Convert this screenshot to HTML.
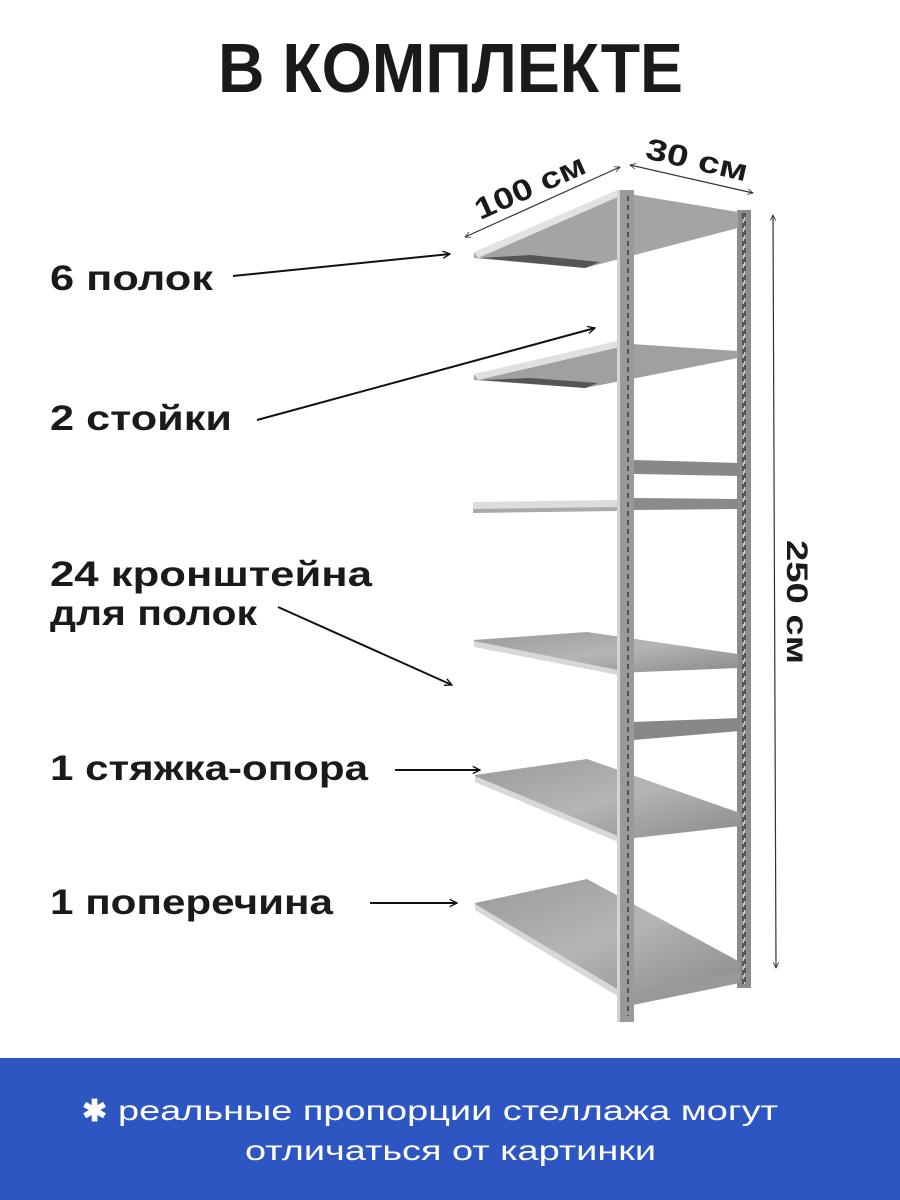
<!DOCTYPE html>
<html><head><meta charset="utf-8"><style>
html,body{margin:0;padding:0;background:#fff;}
svg{display:block;}
text{font-family:"Liberation Sans",sans-serif;font-weight:bold;fill:#1a1a1a;}
</style></head><body>
<svg width="900" height="1200" viewBox="0 0 900 1200" xmlns="http://www.w3.org/2000/svg">
<defs>
<marker id="ah" viewBox="0 0 10 10" refX="9" refY="5" markerWidth="9" markerHeight="9" orient="auto" markerUnits="userSpaceOnUse"><path d="M1,1 L9,5 L1,9" fill="none" stroke="#111" stroke-width="1.5"/></marker>
<marker id="as" viewBox="0 0 10 10" refX="9" refY="5" markerWidth="7" markerHeight="7" orient="auto-start-reverse" markerUnits="userSpaceOnUse"><path d="M1,1 L9,5 L1,9" fill="none" stroke="#333" stroke-width="1.2"/></marker>
<linearGradient id="sh" x1="0" y1="0" x2="1" y2="1"><stop offset="0" stop-color="#9a9a9a"/><stop offset="0.5" stop-color="#b5b5b5"/><stop offset="1" stop-color="#8a8a8a"/></linearGradient>
</defs>
<text x="218" y="92" font-size="70" textLength="465" lengthAdjust="spacingAndGlyphs">В КОМПЛЕКТЕ</text>

<!-- back post -->
<rect x="737" y="210" width="14" height="778" fill="#8c8c8c"/>
<rect x="743" y="214" width="2" height="770" fill="#c8c8c8" stroke-dasharray="5 4" stroke="#555" stroke-width="2"/>
<!-- crossbars -->
<polygon points="633,460 740,463 740,476 633,474" fill="#888"/>
<polygon points="633,498 738,499 738,509 633,510" fill="#8a8a8a"/>
<polygon points="633,722 740,718 740,731 633,740" fill="#888"/>
<polygon points="633,990 740,972 740,983 633,1005" fill="#999"/>

<!-- shelf 1 -->
<polygon points="474,253 617,192 738,212 738,228 585,268 474,258" fill="#a4a4a4"/>
<polygon points="474,252 617,190 620,196 478,258" fill="#e2e2e2"/>
<polygon points="480,258 585,268 600,262 530,255" fill="#555"/>
<!-- shelf 2 -->
<polygon points="474,375 617,343 738,351 738,358 585,388 474,380" fill="#a0a0a0"/>
<polygon points="474,374 617,341 620,347 478,380" fill="#e0e0e0"/>
<polygon points="480,380 585,388 598,383 530,378" fill="#555"/>
<!-- shelf 3 -->
<polygon points="473,502 617,500 617,508 473,510" fill="#dcdcdc"/>
<polygon points="473,509 617,507 617,511 473,513" fill="#aaa"/>
<!-- shelf 4 -->
<polygon points="474,640 587,632 738,654 738,668 618,673 474,645" fill="url(#sh)"/>
<polygon points="474,641 618,670 618,675 474,647" fill="#d8d8d8"/>
<!-- shelf 5 -->
<polygon points="475,775 587,759 740,813 740,826 618,840 475,781" fill="url(#sh)"/>
<polygon points="475,776 618,836 618,842 475,782" fill="#d8d8d8"/>
<!-- shelf 6 -->
<polygon points="475,903 587,879 740,962 740,972 619,995 475,909" fill="url(#sh)"/>
<polygon points="475,904 619,990 619,997 475,910" fill="#d8d8d8"/>

<!-- front post -->
<rect x="617" y="190" width="17" height="832" fill="#9a9a9a"/>
<rect x="617" y="190" width="3" height="832" fill="#d4d4d4"/>
<line x1="628" y1="196" x2="628" y2="1016" stroke="#555" stroke-width="2" stroke-dasharray="5 4"/>

<!-- dimension lines -->
<line x1="465" y1="237" x2="620" y2="167" stroke="#333" stroke-width="1.2" marker-start="url(#as)" marker-end="url(#as)"/>
<line x1="630" y1="165" x2="753" y2="193" stroke="#333" stroke-width="1.2" marker-start="url(#as)" marker-end="url(#as)"/>
<line x1="773" y1="215" x2="776" y2="968" stroke="#333" stroke-width="1.2" marker-start="url(#as)" marker-end="url(#as)"/>
<text font-size="30" transform="translate(530,187) rotate(-24)" text-anchor="middle" textLength="118" lengthAdjust="spacingAndGlyphs" x="0" y="10">100 см</text>
<text font-size="30" transform="translate(697,160) rotate(13)" text-anchor="middle" textLength="104" lengthAdjust="spacingAndGlyphs" x="0" y="10">30 см</text>
<text font-size="30" transform="translate(797,602) rotate(90)" text-anchor="middle" textLength="124" lengthAdjust="spacingAndGlyphs" x="0" y="10">250 см</text>

<!-- labels -->
<text x="50" y="290" font-size="35" textLength="163" lengthAdjust="spacingAndGlyphs">6 полок</text>
<text x="50" y="430" font-size="35" textLength="182" lengthAdjust="spacingAndGlyphs">2 стойки</text>
<text x="50" y="586" font-size="35" textLength="322" lengthAdjust="spacingAndGlyphs">24 кронштейна</text>
<text x="50" y="625" font-size="35" textLength="207" lengthAdjust="spacingAndGlyphs">для полок</text>
<text x="50" y="780" font-size="35" textLength="318" lengthAdjust="spacingAndGlyphs">1 стяжка-опора</text>
<text x="50" y="914" font-size="35" textLength="283" lengthAdjust="spacingAndGlyphs">1 поперечина</text>

<g stroke="#111" stroke-width="2" fill="none">
<line x1="233" y1="276" x2="450" y2="254" marker-end="url(#ah)"/>
<line x1="257" y1="420" x2="595" y2="328" marker-end="url(#ah)"/>
<line x1="278" y1="607" x2="452" y2="685" marker-end="url(#ah)"/>
<line x1="395" y1="770" x2="480" y2="770" marker-end="url(#ah)"/>
<line x1="370" y1="903" x2="457" y2="903" marker-end="url(#ah)"/>
</g>

<rect x="0" y="1058" width="900" height="142" fill="#2d56c3"/>
<text x="82" y="1121" font-size="30" fill="#fff" style="fill:#fff" font-weight="bold">✱</text>
<text x="118" y="1120" font-size="28" style="fill:#fff;font-weight:normal" textLength="660" lengthAdjust="spacingAndGlyphs">реальные пропорции стеллажа могут</text>
<text x="245" y="1160" font-size="28" style="fill:#fff;font-weight:normal" textLength="411" lengthAdjust="spacingAndGlyphs">отличаться от картинки</text>
</svg>
</body></html>
